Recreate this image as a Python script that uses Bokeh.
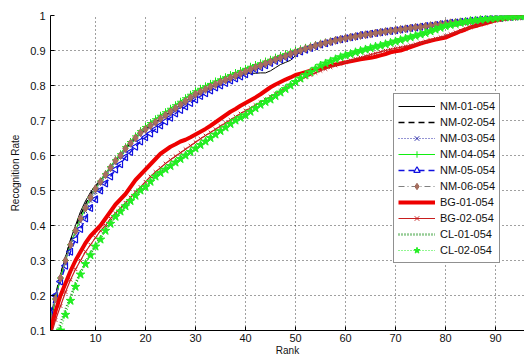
from bokeh.plotting import figure
from bokeh.models import FixedTicker, Legend, LegendItem
from bokeh.embed import file_html
from bokeh.resources import INLINE
import math

ranks = list(range(1, 97))

NM_01 = [.12,.19,.26,.31,.36,.40,.44,.47,.495,.515,
         .53,.548,.566,.585,.60,.62,.635,.65,.665,.675,
         .685,.695,.705,.715,.725,.735,.745,.755,.765,.775,
         .782,.789,.796,.803,.81,.815,.82,.826,.831,.834,
         .835,.835,.836,.836,.842,.851,.86,.866,.872,.885,
         .897,.905,.909,.914,.918,.922,.925,.929,.932,.935,
         .938,.94,.943,.945,.947,.95,.952,.954,.956,.958,
         .96,.962,.964,.966,.967,.969,.971,.973,.975,.977,
         .979,.98,.982,.983,.985,.986,.988,.989,.991,.992,
         .993,.995,.996,.997,.998,.999]
NM_02 = [.13,.20,.26,.31,.355,.395,.43,.46,.49,.51,
         .528,.547,.566,.585,.60,.62,.635,.65,.664,.675,
         .685,.695,.705,.715,.725,.735,.745,.755,.764,.774,
         .781,.788,.795,.802,.809,.815,.821,.827,.833,.839,
         .845,.851,.856,.862,.867,.873,.878,.883,.889,.894,
         .899,.904,.908,.913,.917,.921,.925,.928,.931,.934,
         .937,.94,.942,.944,.947,.949,.951,.953,.955,.957,
         .959,.961,.963,.965,.967,.969,.971,.973,.975,.977,
         .978,.98,.981,.983,.984,.986,.987,.989,.99,.992,
         .993,.994,.996,.997,.998,.999]
NM_03 = [.14,.20,.25,.295,.34,.375,.41,.44,.47,.495,
         .52,.54,.56,.58,.595,.613,.63,.645,.66,.671,
         .682,.692,.702,.712,.722,.732,.742,.752,.762,.772,
         .78,.788,.795,.802,.809,.815,.821,.827,.833,.839,
         .845,.851,.857,.862,.868,.873,.879,.884,.889,.895,
         .9,.904,.909,.913,.917,.921,.925,.929,.932,.935,
         .938,.941,.943,.945,.948,.95,.952,.954,.956,.958,
         .96,.962,.964,.966,.968,.97,.972,.973,.975,.977,
         .979,.98,.982,.984,.985,.987,.988,.99,.991,.992,
         .994,.995,.996,.997,.998,.999]
NM_04 = [.13,.19,.25,.30,.345,.385,.42,.45,.48,.505,
         .527,.548,.568,.588,.605,.625,.64,.656,.671,.683,
         .694,.705,.715,.725,.735,.745,.755,.765,.775,.785,
         .792,.799,.806,.813,.819,.825,.831,.837,.843,.849,
         .855,.86,.865,.87,.875,.881,.886,.891,.896,.901,
         .905,.909,.913,.917,.921,.924,.927,.93,.933,.936,
         .939,.941,.944,.946,.948,.951,.953,.955,.957,.959,
         .961,.963,.965,.967,.969,.97,.972,.974,.976,.978,
         .979,.981,.982,.984,.985,.987,.988,.99,.991,.993,
         .994,.995,.996,.997,.998,.999]
NM_05 = [.15,.20,.24,.285,.325,.36,.39,.42,.45,.475,
         .50,.52,.54,.56,.575,.595,.61,.625,.64,.652,
         .663,.675,.686,.697,.708,.72,.73,.74,.75,.76,
         .77,.778,.786,.794,.80,.807,.814,.82,.826,.832,
         .84,.846,.852,.858,.864,.87,.875,.881,.886,.892,
         .897,.902,.907,.912,.917,.921,.925,.929,.932,.935,
         .938,.941,.944,.946,.948,.95,.952,.954,.956,.958,
         .96,.962,.964,.966,.968,.97,.971,.973,.975,.977,
         .979,.98,.982,.983,.985,.986,.988,.989,.991,.992,
         .993,.995,.996,.997,.998,.999]
NM_06 = [.13,.19,.25,.30,.345,.385,.42,.45,.48,.505,
         .525,.545,.565,.585,.60,.62,.635,.65,.665,.675,
         .685,.695,.705,.715,.725,.735,.745,.755,.765,.775,
         .782,.789,.796,.803,.81,.816,.822,.828,.834,.84,
         .846,.852,.857,.863,.868,.874,.879,.884,.89,.895,
         .9,.905,.909,.914,.918,.922,.925,.929,.932,.935,
         .938,.94,.943,.945,.947,.95,.952,.954,.956,.958,
         .96,.962,.964,.966,.967,.969,.971,.973,.975,.977,
         .979,.98,.982,.983,.985,.986,.988,.989,.991,.992,
         .993,.995,.996,.997,.998,.999]
BG_01 = [.10,.155,.20,.235,.27,.30,.325,.35,.37,.385,
         .40,.42,.44,.46,.475,.49,.51,.53,.545,.56,
         .575,.59,.605,.615,.625,.632,.64,.645,.652,.66,
         .668,.676,.685,.695,.705,.715,.725,.733,.742,.75,
         .758,.766,.775,.785,.795,.803,.81,.817,.823,.83,
         .834,.838,.842,.846,.85,.853,.856,.86,.863,.866,
         .869,.872,.875,.877,.879,.882,.886,.89,.895,.898,
         .90,.905,.91,.915,.92,.924,.928,.931,.934,.937,
         .943,.949,.955,.96,.966,.97,.974,.978,.982,.986,
         .989,.992,.995,.997,.999,1.0]
BG_02 = [.08,.13,.17,.21,.245,.275,.30,.325,.345,.365,
         .385,.40,.42,.435,.45,.465,.48,.495,.51,.525,
         .54,.553,.565,.577,.588,.598,.608,.618,.628,.638,
         .648,.657,.666,.675,.684,.693,.702,.711,.72,.728,
         .736,.744,.752,.76,.768,.776,.784,.792,.80,.808,
         .816,.824,.83,.836,.842,.847,.852,.857,.862,.867,
         .872,.876,.88,.884,.888,.892,.896,.90,.903,.906,
         .909,.912,.915,.918,.922,.926,.93,.934,.938,.942,
         .947,.952,.957,.962,.966,.97,.974,.978,.982,.985,
         .988,.991,.994,.996,.998,.999]
CL_01 = [.05,.085,.12,.16,.195,.235,.265,.295,.32,.345,
         .365,.39,.41,.43,.445,.46,.475,.49,.505,.515,
         .53,.543,.553,.563,.573,.583,.593,.603,.613,.623,
         .633,.643,.653,.663,.673,.683,.693,.702,.71,.718,
         .727,.737,.746,.755,.763,.772,.782,.792,.802,.812,
         .821,.83,.839,.847,.855,.862,.868,.874,.88,.885,
         .89,.894,.898,.902,.906,.91,.913,.917,.921,.925,
         .929,.933,.937,.941,.945,.949,.954,.959,.964,.968,
         .972,.975,.978,.981,.983,.985,.987,.989,.991,.992,
         .994,.995,.996,.997,.998,.999]
CL_02 = [.03,.06,.10,.145,.185,.225,.26,.29,.315,.34,
         .36,.385,.405,.425,.44,.455,.47,.485,.50,.51,
         .525,.54,.55,.56,.57,.58,.59,.60,.61,.62,
         .63,.64,.65,.66,.67,.68,.69,.70,.708,.715,
         .725,.735,.745,.753,.76,.77,.78,.79,.80,.81,
         .82,.83,.838,.848,.857,.863,.869,.875,.881,.886,
         .89,.895,.899,.903,.907,.911,.914,.918,.922,.926,
         .93,.934,.938,.942,.946,.95,.955,.96,.965,.97,
         .973,.976,.979,.982,.984,.986,.988,.99,.991,.992,
         .994,.995,.996,.997,.998,.999]

series_names = ["NM-01-054", "NM-02-054", "NM-03-054", "NM-04-054", "NM-05-054",
                "NM-06-054", "BG-01-054", "BG-02-054", "CL-01-054", "CL-02-054"]
x_ticks = [10, 20, 30, 40, 50, 60, 70, 80, 90]
y_ticks = [0.1, 0.2, 0.3, 0.4, 0.5, 0.6, 0.7, 0.8, 0.9, 1.0]

FONT = "Liberation Sans"

p = figure(width=524, height=358, x_range=(1, 95.8), y_range=(0.1, 1.0),
           output_backend="svg", toolbar_location=None,
           min_border_left=50, min_border_top=15, min_border_right=0, min_border_bottom=28)
p.outline_line_color = None

for ax in (p.xaxis, p.yaxis):
    ax.major_tick_in = 4
    ax.major_tick_out = 0
    ax.minor_tick_line_color = None
    ax.axis_line_color = "black"
    ax.major_tick_line_color = "black"
    ax.major_label_text_font = FONT
    ax.major_label_text_font_size = "11px"
    ax.major_label_text_color = "#111111"
    ax.axis_label_text_font = FONT
    ax.axis_label_text_font_size = "10px"
    ax.axis_label_text_font_style = "normal"
    ax.axis_label_text_color = "#111111"

p.xaxis.ticker = FixedTicker(ticks=x_ticks)
p.yaxis.ticker = FixedTicker(ticks=y_ticks)
p.yaxis.major_label_overrides = {1.0: "1", 1: "1"}
p.xaxis.major_label_standoff = 3
p.xaxis.axis_label_standoff = 0
p.yaxis.major_label_standoff = 5
p.yaxis.axis_label_standoff = 6
p.xaxis.axis_label = "Rank"
p.yaxis.axis_label = "Recognition Rate"

for g in (p.xgrid, p.ygrid):
    g.grid_line_color = "#111111"
    g.grid_line_dash = "1 3"
    g.grid_line_width = 1
    g.grid_line_alpha = 0.8
p.xgrid.ticker = FixedTicker(ticks=x_ticks)
p.ygrid.ticker = FixedTicker(ticks=y_ticks)

items = []

r = p.line(ranks, NM_01, line_color="black", line_width=1)
items.append(LegendItem(label=series_names[0], renderers=[r]))

r = p.line(ranks, NM_02, line_color="black", line_width=1.5, line_dash="6 4")
items.append(LegendItem(label=series_names[1], renderers=[r]))

r1 = p.line(ranks, NM_03, line_color="#2a2aa8", line_width=1, line_dash="1 2")
r2 = p.scatter(ranks, NM_03, marker="x", size=5, line_color="#2a2aa8", line_width=1)
items.append(LegendItem(label=series_names[2], renderers=[r1, r2]))

r1 = p.line(ranks, NM_04, line_color="#11ee11", line_width=1.2)
r2 = p.scatter(ranks, NM_04, marker="cross", size=7, line_color="#11ee11", line_width=1)
items.append(LegendItem(label=series_names[3], renderers=[r1, r2]))

r1 = p.line(ranks, NM_05, line_color="#1010e0", line_width=1.5, line_dash="6 4")
r2 = p.scatter(ranks, NM_05, marker="triangle", angle=math.pi / 2, size=7,
               line_color="#1010e0", fill_color=None, line_width=1.2)
items.append(LegendItem(label=series_names[4], renderers=[r1, r2]))

r1 = p.line(ranks, NM_06, line_color="#808080", line_width=1.2, line_dash="6 3 1 3")
r2 = p.scatter(ranks, NM_06, marker="diamond", size=8, line_color="#a0685a",
               fill_color="#a8705f", line_width=1)
items.append(LegendItem(label=series_names[5], renderers=[r1, r2]))

r = p.line(ranks, BG_01, line_color="#ee0000", line_width=4)
items.append(LegendItem(label=series_names[6], renderers=[r]))

r1 = p.line(ranks, BG_02, line_color="#c81e1e", line_width=1.2)
r2 = p.scatter(ranks, BG_02, marker="x", size=5, line_color="#c81e1e", line_width=1)
items.append(LegendItem(label=series_names[7], renderers=[r1, r2]))

r = p.line(ranks, CL_01, line_color="#2e9a2e", line_width=2.5, line_dash="1 2")
items.append(LegendItem(label=series_names[8], renderers=[r]))

r1 = p.line(ranks, CL_02, line_color="#22ee22", line_width=1, line_dash="1 2")
r2 = p.scatter(ranks, CL_02, marker="star", size=9, line_color="#22ee22",
               fill_color="#22ee22", line_width=1)
items.append(LegendItem(label=series_names[9], renderers=[r1, r2]))

legend = Legend(items=items, location=(343, 67))
legend.border_line_color = "#222222"
legend.border_line_width = 1
legend.background_fill_color = "white"
legend.background_fill_alpha = 1
legend.label_text_font = FONT
legend.label_text_font_size = "11px"
legend.label_text_color = "#111111"
legend.glyph_width = 37
legend.glyph_height = 16
legend.label_height = 16
legend.spacing = 0
legend.padding = 4
legend.margin = 0
legend.label_standoff = 5
p.add_layout(legend)

open("out.html", "w").write(file_html(p, INLINE))
